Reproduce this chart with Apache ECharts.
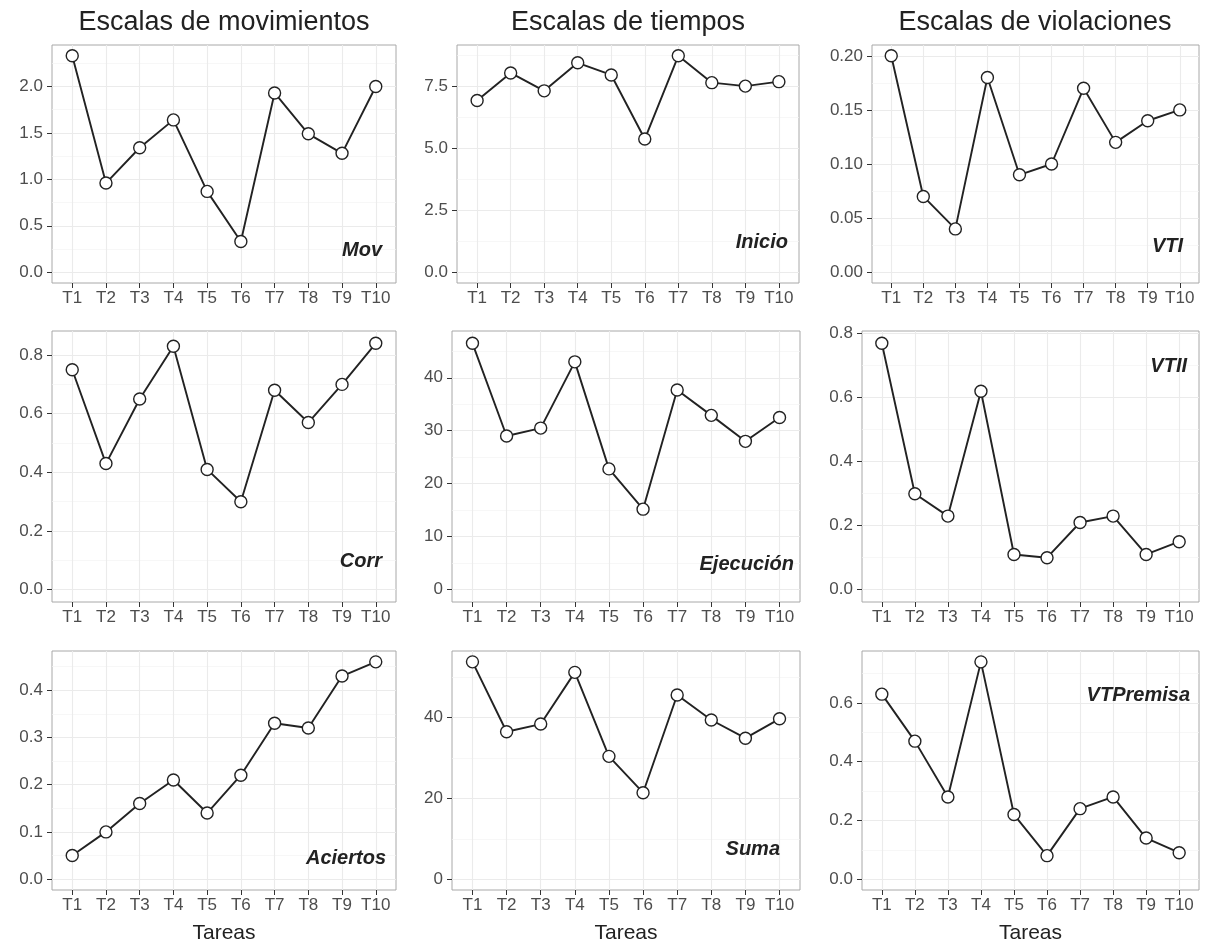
<!DOCTYPE html>
<html>
<head>
<meta charset="utf-8">
<script src="https://cdn.jsdelivr.net/npm/echarts@6/dist/echarts.min.js"></script>
<style>
html,body{margin:0;padding:0;background:#fff;}
#chart{width:1205px;height:945px;}
</style>
</head>
<body>
<div id="chart"></div>
<script>
// ---- data ----
const tasks = ['T1','T2','T3','T4','T5','T6','T7','T8','T9','T10'];

const mov       = [2.33, 0.96, 1.34, 1.64, 0.87, 0.33, 1.93, 1.49, 1.28, 2.00];
const inicio    = [6.91, 8.02, 7.30, 8.43, 7.94, 5.36, 8.71, 7.63, 7.49, 7.67];
const vti       = [0.20, 0.07, 0.04, 0.18, 0.09, 0.10, 0.17, 0.12, 0.14, 0.15];
const corr      = [0.75, 0.43, 0.65, 0.83, 0.41, 0.30, 0.68, 0.57, 0.70, 0.84];
const ejecucion = [46.5, 29.0, 30.5, 43.0, 22.8, 15.2, 37.7, 32.9, 28.0, 32.5];
const vtii      = [0.77, 0.30, 0.23, 0.62, 0.11, 0.10, 0.21, 0.23, 0.11, 0.15];
const aciertos  = [0.05, 0.10, 0.16, 0.21, 0.14, 0.22, 0.33, 0.32, 0.43, 0.46];
const suma      = [53.8, 36.5, 38.4, 51.2, 30.4, 21.4, 45.6, 39.4, 34.9, 39.7];
const vtpremisa = [0.63, 0.47, 0.28, 0.74, 0.22, 0.08, 0.24, 0.28, 0.14, 0.09];

// tick labels (major breaks)
const movTicks       = [0, 0.5, 1.0, 1.5, 2.0];
const inicioTicks    = [0, 2.5, 5.0, 7.5];
const vtiTicks       = [0, 0.05, 0.10, 0.15, 0.20];
const corrTicks      = [0, 0.2, 0.4, 0.6, 0.8];
const ejecucionTicks = [0, 10, 20, 30, 40];
const vtiiTicks      = [0, 0.2, 0.4, 0.6, 0.8];
const aciertosTicks  = [0, 0.1, 0.2, 0.3, 0.4];
const sumaTicks      = [0, 20, 40];
const vtpremisaTicks = [0, 0.2, 0.4, 0.6];

const colTitles = ['Escalas de movimientos', 'Escalas de tiempos', 'Escalas de violaciones'];
const xTitle = 'Tareas';

// ---- layout ----
const FONT = 'Liberation Sans, Arial, sans-serif';
const panels = [
  {name:'Mov',       vals:mov,       ticks:movTicks,       dec:1, box:[52,45,344,238],  lab:[382,250]},
  {name:'Inicio',    vals:inicio,    ticks:inicioTicks,    dec:1, box:[457,45,342,238], lab:[788,242]},
  {name:'VTI',       vals:vti,       ticks:vtiTicks,       dec:2, box:[872,45,327,238], lab:[1183,246]},
  {name:'Corr',      vals:corr,      ticks:corrTicks,      dec:1, box:[52,331,344,271], lab:[382,561]},
  {name:'Ejecución', vals:ejecucion, ticks:ejecucionTicks, dec:0, box:[452,331,348,271],lab:[794,564]},
  {name:'VTII',      vals:vtii,      ticks:vtiiTicks,      dec:1, box:[862,331,337,271],lab:[1187,366]},
  {name:'Aciertos',  vals:aciertos,  ticks:aciertosTicks,  dec:1, box:[52,651,344,239], lab:[386,858]},
  {name:'Suma',      vals:suma,      ticks:sumaTicks,      dec:0, box:[452,651,348,239],lab:[780,849]},
  {name:'VTPremisa', vals:vtpremisa, ticks:vtpremisaTicks, dec:1, box:[862,651,337,239],lab:[1190,695]}
];
const titlePos = [[224,23],[628,23],[1035,23]];

const grids = [], xAxes = [], yAxes = [], series = [], graphics = [];
const xVals = tasks.map((t, i) => i + 1);

panels.forEach((p, i) => {
  const [l, t, w, h] = p.box;
  const dmax = Math.max(0, ...p.vals);
  const dmin = Math.min(0, ...p.vals);
  const span = dmax - dmin;
  const lo = dmin - 0.05 * span, hi = dmax + 0.05 * span;
  const step = p.ticks[1] - p.ticks[0];
  const minors = [];
  for (let k = 0; k < p.ticks.length; k++) {
    [p.ticks[k] - step / 2, p.ticks[k] + step / 2].forEach(m => {
      const mm = +m.toFixed(6);
      if (mm > lo && mm < hi && minors.indexOf(mm) < 0) minors.push(mm);
    });
  }
  grids.push({left:l, top:t, width:w, height:h, show:true, backgroundColor:'#fff',
              borderColor:'#a8a8a8', borderWidth:1});
  xAxes.push({
    gridIndex:i, type:'value', min:0.4, max:10.6,
    axisLine:{show:false, onZero:false},
    axisTick:{show:true, length:5, customValues:xVals, lineStyle:{color:'#333', width:1}},
    axisLabel:{customValues:xVals, formatter:v => tasks[Math.round(v) - 1],
               color:'#4d4d4d', fontSize:17, fontFamily:FONT, margin:7},
    splitLine:{show:true, lineStyle:{color:'#ebebeb', width:1.1}},
    name: i >= 6 ? xTitle : '', nameLocation:'middle', nameGap:33,
    nameTextStyle:{color:'#222', fontSize:21, fontFamily:FONT}
  });
  yAxes.push({
    gridIndex:i, type:'value', min:lo, max:hi, position:'left',
    axisLine:{show:false, onZero:false},
    axisTick:{show:true, length:5, customValues:p.ticks, lineStyle:{color:'#333', width:1}},
    axisLabel:{customValues:p.ticks, formatter:v => Number(v).toFixed(p.dec),
               color:'#4d4d4d', fontSize:17, fontFamily:FONT, margin:9},
    splitLine:{show:true, lineStyle:{color:'#ebebeb', width:1.1}}
  });
  yAxes.push({
    gridIndex:i, type:'value', min:lo, max:hi, position:'right',
    axisLine:{show:false, onZero:false},
    axisTick:{show:false, customValues:minors},
    axisLabel:{show:false, customValues:minors},
    splitLine:{show:true, lineStyle:{color:'#f3f3f3', width:0.7}}
  });
  series.push({
    type:'line', xAxisIndex:i, yAxisIndex:2 * i,
    data:p.vals.map((v, k) => [xVals[k], v]),
    symbol:'circle', symbolSize:12, showSymbol:true, showAllSymbol:true,
    lineStyle:{color:'#222', width:1.9},
    itemStyle:{color:'#fff', borderColor:'#222', borderWidth:1.4},
    z:5
  });
  graphics.push({
    type:'text', z:100,
    style:{text:p.name, x:p.lab[0], y:p.lab[1], align:'right', verticalAlign:'middle',
           textAlign:'right', textVerticalAlign:'middle',
           font:'italic bold 20px ' + FONT, fill:'#222'}
  });
});

colTitles.forEach((tt, j) => {
  graphics.push({
    type:'text', z:100,
    style:{text:tt, x:titlePos[j][0], y:titlePos[j][1], align:'center', verticalAlign:'middle',
           textAlign:'center', textVerticalAlign:'middle',
           font:'27px ' + FONT, fill:'#222'}
  });
});

const chart = echarts.init(document.getElementById('chart'), null, {renderer:'canvas'});
chart.setOption({
  animation:false,
  backgroundColor:'#fff',
  grid:grids, xAxis:xAxes, yAxis:yAxes, series:series,
  graphic:{elements:graphics}
});
</script>
</body>
</html>
